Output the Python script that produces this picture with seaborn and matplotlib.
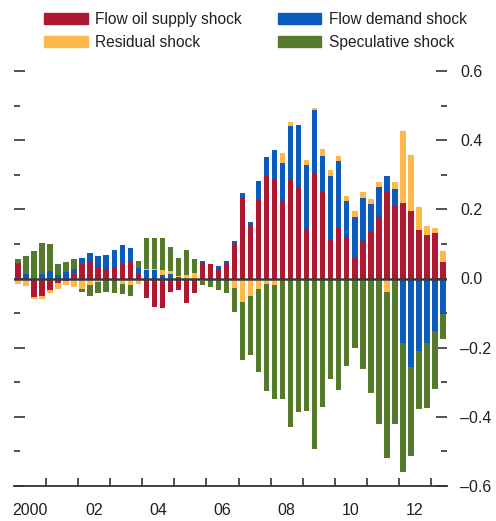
import numpy as np
import pandas as pd
import matplotlib
matplotlib.use('Agg')
import matplotlib.pyplot as plt
from matplotlib.patches import Patch
from matplotlib.ticker import FixedLocator
import seaborn as sns

# quarterly contributions, 2000Q1 - 2013Q2
quarters = [f'{y}Q{q}' for y in range(2000, 2014) for q in range(1, 5)][:54]

supply = [0.043, 0.003, -0.053, -0.051, -0.034, -0.013, -0.008, 0.014,
          0.043, 0.050, 0.033, 0.027, 0.033, 0.044, 0.047, 0.014,
          -0.057, -0.083, -0.084, -0.038, -0.032, -0.070, -0.041, 0.044,
          0.041, 0.026, 0.041, 0.101, 0.236, 0.156, 0.229, 0.300,
          0.289, 0.225, 0.287, 0.266, 0.142, 0.306, 0.252, 0.115,
          0.148, 0.121, 0.060, 0.107, 0.135, 0.178, 0.253, 0.211,
          0.218, 0.195, 0.140, 0.126, 0.131, 0.047]
demand = [0.002, 0.011, 0.0, 0.013, 0.021, 0.010, 0.018, 0.014,
          0.015, 0.023, 0.032, 0.041, 0.049, 0.052, 0.041, 0.017,
          0.025, 0.024, 0.010, 0.013, 0.005, 0.0, 0.0, 0.007,
          -0.006, 0.009, 0.009, 0.006, 0.010, 0.007, 0.054, 0.052,
          0.084, 0.110, 0.153, 0.177, 0.185, 0.180, 0.103, 0.180,
          0.193, 0.104, 0.119, 0.127, 0.081, 0.087, 0.043, 0.048,
          -0.186, -0.256, -0.210, -0.186, -0.152, -0.102]
residual = [-0.016, -0.023, -0.007, -0.009, -0.009, -0.018, -0.012, -0.026,
            -0.031, -0.020, -0.011, -0.005, 0.0, -0.017, -0.020, -0.017,
            0.002, 0.003, 0.015, 0.009, 0.002, 0.010, 0.016, -0.008,
            0.0, -0.005, 0.0, -0.027, -0.068, -0.050, -0.030, -0.015,
            -0.018, 0.029, 0.012, -0.004, 0.017, 0.006, 0.020, 0.020,
            0.014, 0.014, 0.017, 0.017, 0.014, 0.014, -0.039, 0.020,
            0.209, 0.162, 0.067, 0.026, 0.014, 0.032]
speculative = [0.012, 0.051, 0.079, 0.089, 0.078, 0.032, 0.029, 0.029,
               -0.007, -0.032, -0.030, -0.033, -0.042, -0.029, -0.032, 0.019,
               0.090, 0.090, 0.093, 0.070, 0.052, 0.072, 0.041, -0.010,
               -0.020, -0.029, -0.043, -0.070, -0.168, -0.171, -0.241, -0.310,
               -0.330, -0.348, -0.429, -0.381, -0.384, -0.494, -0.372, -0.291,
               -0.323, -0.253, -0.201, -0.262, -0.331, -0.421, -0.481, -0.421,
               -0.374, -0.258, -0.168, -0.188, -0.168, -0.072]

year_labels = ['2000', '02', '04', '06', '08', '10', '12']
ytick_vals = [-0.6, -0.4, -0.2, 0.0, 0.2, 0.4, 0.6]
ytick_labels = ['\u20130.6', '\u20130.4', '\u20130.2', '0.0', '0.2', '0.4', '0.6']

names = ['supply', 'demand', 'residual', 'speculative']
labels = {'supply': 'Flow oil supply shock', 'demand': 'Flow demand shock',
          'residual': 'Residual shock', 'speculative': 'Speculative shock'}
colors = {'supply': '#AE1830', 'demand': '#0A5BBB',
          'residual': '#FDB94B', 'speculative': '#557A2C'}

df = pd.DataFrame({'quarter': quarters, 'supply': supply, 'demand': demand,
                   'residual': residual, 'speculative': speculative})

sns.set_theme(style='white')
plt.rcParams['font.family'] = ['Liberation Sans', 'DejaVu Sans']
dark = '#231F20'

fig = plt.figure(figsize=(4.96, 5.21), dpi=100)
ax = fig.add_axes([14/496, 35/521, 433/496, 415/521])

# stacked bars: positives and negatives stacked separately, drawn outermost first
pos = df[names].clip(lower=0).cumsum(axis=1)
neg = df[names].clip(upper=0).cumsum(axis=1)
for part in (pos, neg):
    for name in reversed(names):
        sns.barplot(x=df['quarter'], y=part[name], order=quarters,
                    color=colors[name], saturation=1, width=0.68,
                    linewidth=0, errorbar=None, ax=ax)

ax.axhline(0, color='#3a3a3a', lw=1.8, zorder=5)

ax.set_xlim(-0.5, 53.5)
ax.set_ylim(-0.6, 0.6)
ax.set_xlabel('')
ax.set_ylabel('')

ax.xaxis.set_major_locator(FixedLocator([1.5 + 8*k for k in range(7)]))
ax.set_xticklabels(year_labels)
ax.xaxis.set_minor_locator(FixedLocator([3.5 + 4*k for k in range(13)]))
ax.tick_params(axis='x', which='major', bottom=True, length=0, pad=12,
               labelsize=11.5, labelcolor=dark)
ax.tick_params(axis='x', which='minor', bottom=True, direction='in',
               length=6, width=1.2, color='#333333')

ax.set_yticks(ytick_vals)
ax.set_yticklabels(ytick_labels)
ax.yaxis.set_minor_locator(FixedLocator([-0.5, -0.3, -0.1, 0.1, 0.3, 0.5]))
ax.tick_params(axis='y', which='major', direction='in', length=8, width=1.2,
               left=True, right=True, labelleft=False, labelright=True,
               pad=9.5, labelsize=11.5, labelcolor=dark, color='#333333')
ax.tick_params(axis='y', which='minor', direction='in', length=4, width=1.2,
               left=True, right=True, color='#333333')

for s in ['top', 'left', 'right']:
    ax.spines[s].set_visible(False)
ax.spines['bottom'].set_color('#333333')
ax.spines['bottom'].set_linewidth(1.3)

handles = [Patch(color=colors[n], label=labels[n])
           for n in ['supply', 'residual', 'demand', 'speculative']]
fig.legend(handles=handles, loc='upper left', bbox_to_anchor=(44/496, 1 - 12/521),
           ncol=2, frameon=False, fontsize=11.2, handlelength=2.8,
           handleheight=0.7, handletextpad=0.5, columnspacing=2.3,
           labelspacing=0.5, borderpad=0, borderaxespad=0,
           labelcolor=dark)

fig.savefig('out.png', dpi=100)
